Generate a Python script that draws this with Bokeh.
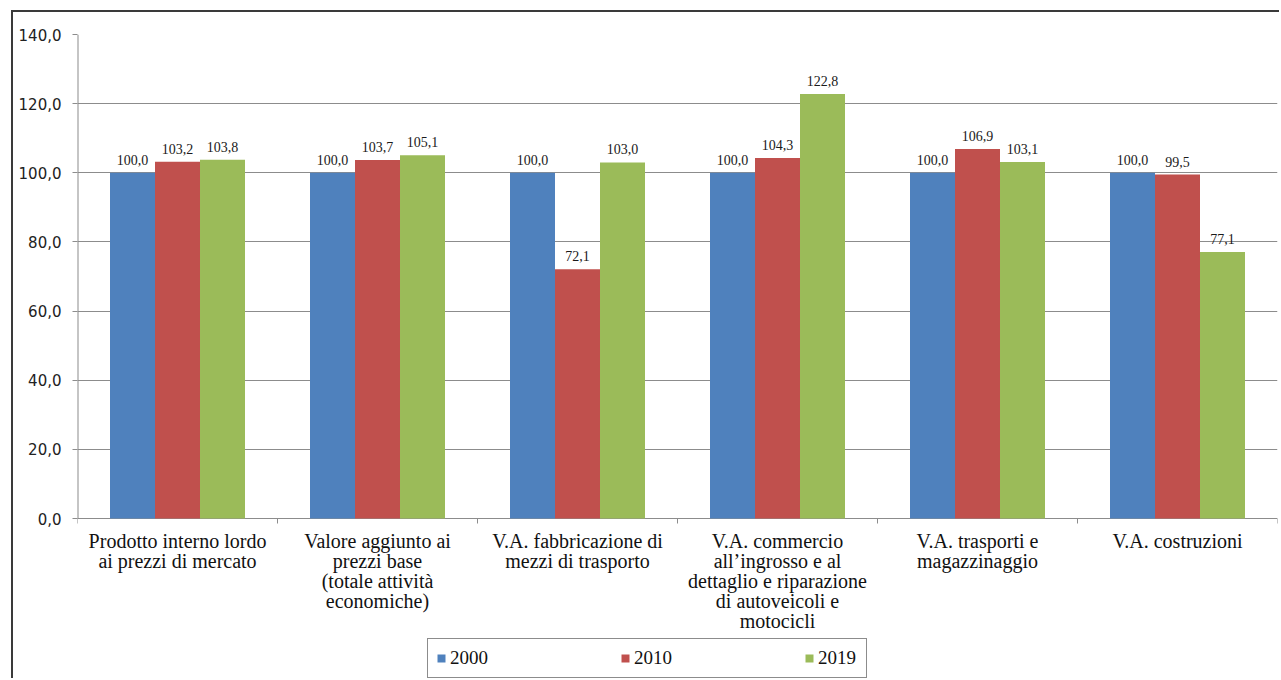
from bokeh.plotting import figure
from bokeh.models import ColumnDataSource, Range1d, FixedTicker
from bokeh.transform import dodge
from bokeh.embed import file_html
from bokeh.resources import INLINE

# Indici (2000 = 100) del valore aggiunto per settore
categories = [
    "Prodotto interno lordo\nai prezzi di mercato",
    "Valore aggiunto ai\nprezzi base\n(totale attività\neconomiche)",
    "V.A. fabbricazione di\nmezzi di trasporto",
    "V.A. commercio\nall’ingrosso e al\ndettaglio e riparazione\ndi autoveicoli e\nmotocicli",
    "V.A. trasporti e\nmagazzinaggio",
    "V.A. costruzioni",
]
years = ["2000", "2010", "2019"]
v2000 = [100.0, 100.0, 100.0, 100.0, 100.0, 100.0]
v2010 = [103.2, 103.7, 72.1, 104.3, 106.9, 99.5]
v2019 = [103.8, 105.1, 103.0, 122.8, 103.1, 77.1]
y_ticks = [0, 20, 40, 60, 80, 100, 120, 140]
y_tick_labels = ["0,0", "20,0", "40,0", "60,0", "80,0", "100,0", "120,0", "140,0"]

colors = ["#4F81BD", "#C0504D", "#9BBB59"]
series = [v2000, v2010, v2019]
SERIF = "Liberation Serif"
AXIS_GREY = "#8c8c8c"
LINE_STEP = 20  # interlinea delle etichette di categoria, in pixel


def it_fmt(v):
    return f"{v:.1f}".replace(".", ",")


idx = list(range(len(categories)))
data = {"x": idx}
for y, vals in zip(years, series):
    data["v" + y] = vals
    data["l" + y] = [it_fmt(v) for v in vals]
source = ColumnDataSource(data)

# una riga di testo per glifo, così ogni riga mantiene il proprio font
lx, ltxt, loff = [], [], []
for i, cat in zip(idx, categories):
    for k, line in enumerate(cat.split("\n")):
        lx.append(i)
        ltxt.append(line)
        loff.append(11 + k * LINE_STEP)
line_source = ColumnDataSource(dict(x=lx, y=[0] * len(lx), text=ltxt, off=loff))

# area del grafico: la parte 0..140 occupa plot_h pixel, sotto restano le etichette
W, H = 1268, 668
top_px = 22
plot_h = 484
frame_h = H - top_px
y_max = y_ticks[-1]
px_per_unit = plot_h / y_max
y_min = -(frame_h - plot_h) / px_per_unit

p = figure(
    width=W, height=H,
    x_range=Range1d(-0.5, len(categories) - 0.5),
    y_range=Range1d(y_min, y_max),
    output_backend="svg", toolbar_location=None,
    min_border_left=64, min_border_right=4,
    min_border_top=top_px, min_border_bottom=0,
)
p.styles = {
    "margin-left": "11px",
    "margin-top": "10px",
    "border-left": "2px solid #3a3a3a",
    "border-top": "2px solid #3a3a3a",
}

bar_w = 0.225
offsets = [-bar_w, 0.0, bar_w]
for y, c, off in zip(years, colors, offsets):
    p.vbar(x=dodge("x", off, range=p.x_range), top="v" + y, width=bar_w,
           source=source, fill_color=c, line_color=None, legend_label=y)
    p.text(x=dodge("x", off, range=p.x_range), y="v" + y, text="l" + y,
           source=source, text_align="center", text_baseline="bottom",
           y_offset=-8, text_font_size="14px", text_color="#1a1a1a",
           text_font=SERIF)

# asse verticale (solo 0..140) e tacche tra le categorie
p.segment(x0=-0.5, y0=0, x1=-0.5, y1=y_max, line_color=AXIS_GREY, line_width=2)
bounds = [i - 0.5 for i in range(len(categories) + 1)]
p.segment(x0=bounds, y0=[0] * len(bounds), x1=bounds,
          y1=[-5 / px_per_unit] * len(bounds), line_color=AXIS_GREY, line_width=1)

# etichette delle categorie sotto l'asse
p.text(x="x", y="y", text="text", y_offset="off", source=line_source,
       text_align="center", text_baseline="top", text_font=SERIF,
       text_font_size="20px", text_color="#111111")

p.outline_line_color = None
p.xgrid.visible = False
p.ygrid.ticker = FixedTicker(ticks=y_ticks)
p.ygrid.grid_line_color = AXIS_GREY
p.ygrid.grid_line_width = 1
p.xaxis.visible = False

p.yaxis.ticker = FixedTicker(ticks=y_ticks)
p.yaxis.major_label_overrides = {t: l for t, l in zip(y_ticks, y_tick_labels)}
p.yaxis.axis_line_color = None
p.yaxis.major_tick_line_color = AXIS_GREY
p.yaxis.major_tick_out = 5
p.yaxis.major_tick_in = 0
p.yaxis.minor_tick_line_color = None
p.yaxis.major_label_text_font = "DejaVu Sans"
p.yaxis.major_label_text_font_size = "15px"
p.yaxis.major_label_text_color = "#222222"
p.yaxis.major_label_standoff = 11

leg = p.legend[0]
leg.orientation = "horizontal"
leg.location = (350, 2)
leg.margin = 0
leg.padding = 8
leg.spacing = 130
leg.glyph_width = 10
leg.glyph_height = 10
leg.label_height = 20
leg.label_width = 40
leg.label_standoff = 4
leg.label_text_font = "Times New Roman"
leg.label_text_font_size = "19px"
leg.label_text_color = "#111111"
leg.border_line_color = "#1a1a1a"
leg.border_line_width = 1
leg.background_fill_alpha = 1

open("out.html", "w").write(file_html(p, INLINE))
